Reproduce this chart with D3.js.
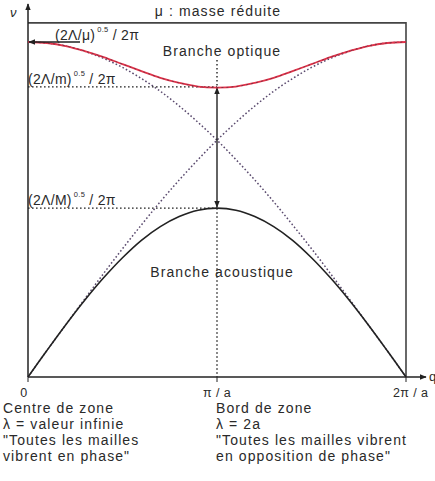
<!DOCTYPE html>
<html>
<head>
<meta charset="utf-8">
<script src="https://cdnjs.cloudflare.com/ajax/libs/d3/7.8.5/d3.min.js"></script>
<style>
  body { margin: 0; background: #fff; }
  svg text { font-family: "Liberation Sans", Arial, sans-serif; fill: #2a2a2a; }
</style>
</head>
<body>
<div id="chart"></div>
<script>
// wave vector, in units of pi/a
var kValues = [0, 0.1, 0.2, 0.3, 0.4, 0.5, 0.6, 0.7, 0.8, 0.9, 1.0,
               1.1, 1.2, 1.3, 1.4, 1.5, 1.6, 1.7, 1.8, 1.9, 2.0];
// frequencies, relative to (2Λ/μ)^0.5 / 2π
var optique = [1.000, 0.997, 0.988, 0.973, 0.955, 0.934, 0.913, 0.893, 0.878, 0.867, 0.864,
               0.867, 0.878, 0.893, 0.913, 0.934, 0.955, 0.973, 0.988, 0.997, 1.000];
var acoustique = [0, 0.079, 0.156, 0.229, 0.296, 0.356, 0.408, 0.449, 0.479, 0.498, 0.504,
                  0.498, 0.479, 0.449, 0.408, 0.356, 0.296, 0.229, 0.156, 0.079, 0];
var montante = [0, 0.079, 0.156, 0.233, 0.309, 0.383, 0.454, 0.523, 0.588, 0.649, 0.707,
                0.760, 0.809, 0.853, 0.891, 0.924, 0.951, 0.972, 0.988, 0.997, 1.000];
var descendante = montante.slice().reverse();
var niveauM = 0.504, niveauMin = 0.866;
var xTicks = [{v: 0, t: "0"}, {v: 1, t: "π / a"}, {v: 2, t: "2π / a"}];

var width = 435, height = 481;
var svg = d3.select("#chart").append("svg")
    .attr("width", width).attr("height", height);

var x = d3.scaleLinear().domain([0, 2]).range([28, 406]);
var y = d3.scaleLinear().domain([0, 1]).range([377, 42]);

var defs = svg.append("defs");
defs.append("marker").attr("id", "arr")
    .attr("viewBox", "0 0 10 10").attr("refX", 9).attr("refY", 5)
    .attr("markerWidth", 7).attr("markerHeight", 7)
    .attr("markerUnits", "userSpaceOnUse")
    .attr("orient", "auto-start-reverse")
  .append("path").attr("d", "M0,1 L10,5 L0,9 z").attr("fill", "#222");

// frame
svg.append("path")
    .attr("d", "M" + x(0) + "," + y(1.057) + "H" + x(2) + "V" + y(0))
    .attr("fill", "none").attr("stroke", "#444").attr("stroke-width", 1.6);

// axes
svg.append("line").attr("x1", x(0)).attr("y1", y(0)).attr("x2", x(0)).attr("y2", 4)
    .attr("stroke", "#222").attr("stroke-width", 1.5).attr("marker-end", "url(#arr)");
svg.append("line").attr("x1", x(0)).attr("y1", y(0)).attr("x2", 426).attr("y2", y(0))
    .attr("stroke", "#222").attr("stroke-width", 1.5).attr("marker-end", "url(#arr)");
svg.append("text").attr("x", 10).attr("y", 17).style("font-size", "13px")
    .style("font-style", "italic").text("ν");
svg.append("text").attr("x", 429).attr("y", 381).style("font-size", "13px").text("q");

xTicks.forEach(function(d) {
  svg.append("line").attr("x1", x(d.v)).attr("x2", x(d.v))
      .attr("y1", y(0)).attr("y2", y(0) + 5).attr("stroke", "#222");
});
svg.selectAll(".xt").data(xTicks).enter().append("text")
    .attr("x", function(d) { return d.v === 0 ? x(0) - 4 : d.v === 1 ? x(1) : 393; })
    .attr("y", 397)
    .attr("text-anchor", function(d) { return d.v === 2 ? "start" : "middle"; })
    .style("font-size", "12.5px").style("letter-spacing", "0.4px")
    .text(function(d) { return d.t; });

var pts = function(arr) { return kValues.map(function(k, i) { return [k, arr[i]]; }); };
var line = d3.line()
    .x(function(d) { return x(d[0]); })
    .y(function(d) { return y(d[1]); })
    .curve(d3.curveCatmullRom);

// dotted folded curves
[montante, descendante].forEach(function(arr) {
  svg.append("path").attr("d", line(pts(arr)))
      .attr("fill", "none").attr("stroke", "#5a4a6e")
      .attr("stroke-width", 1.5).attr("stroke-dasharray", "1.6,2.2");
});

// dotted guides
var guide = function(x1, y1, x2, y2) {
  svg.append("line").attr("x1", x1).attr("y1", y1).attr("x2", x2).attr("y2", y2)
      .attr("stroke", "#222").attr("stroke-width", 1.4).attr("stroke-dasharray", "1.6,2.4");
};
guide(x(0), y(niveauMin), x(1), y(niveauMin));
guide(x(0), y(niveauM), x(1), y(niveauM));
guide(x(1), 60, x(1), y(niveauMin));
guide(x(1), y(niveauM), x(1), y(0));

// gap arrow
svg.append("line").attr("x1", x(1)).attr("x2", x(1))
    .attr("y1", y(niveauMin) + 1).attr("y2", y(niveauM) - 1)
    .attr("stroke", "#222").attr("stroke-width", 1.4)
    .attr("marker-start", "url(#arr)").attr("marker-end", "url(#arr)");

// branches
svg.append("path").attr("d", line(pts(optique)))
    .attr("fill", "none").attr("stroke", "#e2334a").attr("stroke-width", 1.8);
svg.append("path").attr("d", line(pts(optique)))
    .attr("fill", "none").attr("stroke", "#4a2a3a").attr("stroke-width", 0.6)
    .attr("stroke-dasharray", "2,3");
svg.append("path").attr("d", line(pts(acoustique)))
    .attr("fill", "none").attr("stroke", "#222").attr("stroke-width", 1.6);

// leader to (2Λ/μ)
svg.append("line").attr("x1", 80).attr("y1", y(1)).attr("x2", x(0) + 1).attr("y2", y(1))
    .attr("stroke", "#222").attr("stroke-width", 1.4).attr("marker-end", "url(#arr)");

var formula = function(px, py, base) {
  var t = svg.append("text").attr("x", px).attr("y", py)
      .style("font-size", "14px").style("letter-spacing", "0.3px");
  t.append("tspan").text(base);
  t.append("tspan").attr("dx", 2).attr("dy", -8).style("font-size", "7.5px").text("0.5");
  t.append("tspan").attr("dy", 8).text(" / 2π");
};
formula(55, 40, "(2Λ/μ)");
formula(28, 84, "(2Λ/m)");
formula(28, 205, "(2Λ/M)");

var label = function(px, py, s, anchor) {
  svg.append("text").attr("x", px).attr("y", py).attr("text-anchor", anchor || "start")
      .style("font-size", "14px").style("letter-spacing", "1.1px").text(s);
};
label(218, 16, "μ : masse réduite", "middle");
label(222, 56, "Branche optique", "middle");
label(222, 277, "Branche acoustique", "middle");

var gauche = ["Centre de zone", "λ = valeur infinie", "\"Toutes les mailles", "vibrent en phase\""];
var droite = ["Bord de zone", "λ = 2a", "\"Toutes les mailles vibrent", "en opposition de phase\""];
gauche.forEach(function(s, i) { label(3, 413 + i * 16, s); });
droite.forEach(function(s, i) { label(216, 413 + i * 16, s); });
</script>
</body>
</html>
